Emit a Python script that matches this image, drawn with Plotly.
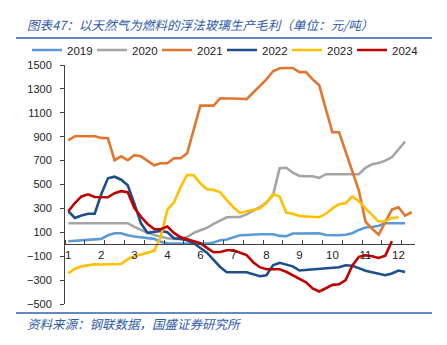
import plotly.graph_objects as go

# ---- data (weekly points, 53 categories) ----
years = ["2019", "2020", "2021", "2022", "2023", "2024"]
colors = ["#5B9BD5", "#A5A5A5", "#E0762F", "#1F4E8C", "#FFC000", "#C00000"]

y2019 = [25, 30, 33, 38, 42, 45, 75, 92, 92, 75, 65, 58, 52, 45, 20, 8, 5, 5, 5, 8,
         8, 5, 15, 33, 40, 58, 75, 78, 84, 84, 84, 84, 70, 67, 90, 92, 92, 92, 92, 78,
         75, 75, 80, 92, 120, 140, 145, 155, 176, 176, 176, 176]
y2020 = [176, 176, 176, 176, 176, 176, 176, 176, 176, 176, 145, 117, 95, 78, 62, 50, 45, 45, 60, 95,
         117, 138, 170, 195, 226, 228, 228, 250, 280, 310, 350, 410, 636, 640, 600, 572, 569, 569, 555, 586,
         586, 586, 586, 586, 586, 640, 669, 680, 700, 728, 790, 860]
y2021 = [870, 904, 904, 904, 904, 890, 887, 703, 736, 703, 745, 736, 695, 661, 678, 678, 720, 720, 761, 960,
         1160, 1160, 1160, 1222, 1222, 1220, 1218, 1215, 1272, 1320, 1380, 1448, 1473, 1475, 1475, 1440, 1440, 1380, 1330, 1130,
         937, 937, 780, 620, 450, 190, 130, 80, 180, 290, 310, 240, 268]
y2022 = [276, 220, 240, 255, 255, 420, 552, 565, 540, 494, 340, 175, 95, 105, 112, 100, 50, 45, 33, 8,
         -30, -70, -130, -190, -234, -234, -234, -234, -250, -268, -260, -176, -155, -168, -185, -220, -215, -212, -210, -200,
         -195, -192, -176, -180, -200, -222, -235, -245, -259, -245, -220, -232]
y2023 = [-243, -205, -185, -176, -167, -170, -170, -167, -165, -125, -100, -85, -70, -55, 60, 290, 350, 477, 580, 577,
         510, 460, 455, 435, 370, 310, 262, 275, 290, 301, 345, 420, 400, 265, 255, 236, 232, 228, 226, 255,
         300, 335, 343, 400, 360, 300, 245, 190, 192, 220, 226]
y2024 = [276, 345, 400, 418, 395, 393, 393, 427, 444, 435, 305, 230, 170, 128, 126, 148, 95, 58, 42, 25,
         8, -30, -67, -65, -50, -50, -67, -90, -150, -192, -209, -209, -209, -230, -260, -285, -318, -370, -395, -368,
         -340, -335, -300, -180, -105, -92, -100, -115, -95, 25]

series = [y2019, y2020, y2021, y2022, y2023, y2024]

n_weeks = 53
month_labels = ["1", "2", "3", "4", "6", "7", "8", "9", "10", "11", "12"]
label_step = 5
tick_step = 3
y_ticks = list(range(-500, 1501, 200))

title_text = "图表47：以天然气为燃料的浮法玻璃生产毛利（单位：元/吨）"
source_text = "资料来源：钢联数据，国盛证券研究所"

# ---- figure ----
fig = go.Figure()
for name, vals, c in zip(years, series, colors):
    fig.add_trace(go.Scatter(x=list(range(len(vals))), y=vals, mode="lines", name=name,
                             line=dict(color=c, width=2.6)))

W, H = 447, 345
ml, mr, mt, mb = 65, 32, 65, 41
pw, ph = W - ml - mr, H - mt - mb

def px_x(p):
    return (p - ml) / pw

def px_y(p):
    return (H - mb - p) / ph

axis_color = "#404040"
blue = "#2F5AA8"

fig.update_layout(
    width=W, height=H,
    margin=dict(l=ml, r=mr, t=mt, b=mb),
    paper_bgcolor="white", plot_bgcolor="white",
    font=dict(family="Liberation Sans, Arial, sans-serif", size=11, color="#222222"),
    showlegend=True,
    legend=dict(orientation="h", x=px_x(27), xanchor="left", y=px_y(50), yanchor="middle",
                font=dict(size=11.5, color="#222222"), entrywidth=20, entrywidthmode="pixels",
                bgcolor="rgba(0,0,0,0)", tracegroupgap=0, itemwidth=30),
    xaxis=dict(range=[-0.5, n_weeks - 0.5], anchor="free", position=500 / 2000,
               showline=True, linecolor=axis_color, linewidth=1,
               tickmode="array", tickvals=[i * label_step for i in range(len(month_labels))],
               ticktext=month_labels, ticks="", showgrid=False, zeroline=False,
               tickfont=dict(size=11.5, color="#222222"),
               minor=dict(tickmode="array",
                          tickvals=[-0.5 + tick_step * k for k in range(0, 18)],
                          ticks="inside", ticklen=4, tickcolor=axis_color, tickwidth=1, showgrid=False)),
    yaxis=dict(range=[-500, 1500], tickmode="array", tickvals=y_ticks,
               showline=True, linecolor=axis_color, linewidth=1,
               ticks="outside", ticklen=4, tickcolor=axis_color, showgrid=False, zeroline=False,
               tickfont=dict(size=11, color="#222222"), ticklabelstandoff=6),
)

fig.add_annotation(xref="paper", yref="paper", x=px_x(25), y=px_y(24), xanchor="left", yanchor="middle",
                   text="<i>" + title_text + "</i>", showarrow=False,
                   font=dict(family="Noto Sans CJK SC", size=12.6, color=blue))
fig.add_annotation(xref="paper", yref="paper", x=px_x(25), y=px_y(323), xanchor="left", yanchor="middle",
                   text="<i>" + source_text + "</i>", showarrow=False,
                   font=dict(family="Noto Sans CJK SC", size=12.5, color=blue))
for yy in (38, 313):
    fig.add_shape(type="line", xref="paper", yref="paper", x0=px_x(16), x1=px_x(432),
                  y0=px_y(yy), y1=px_y(yy), line=dict(color="#2F62B0", width=1.6))

fig.write_html("out.html")
